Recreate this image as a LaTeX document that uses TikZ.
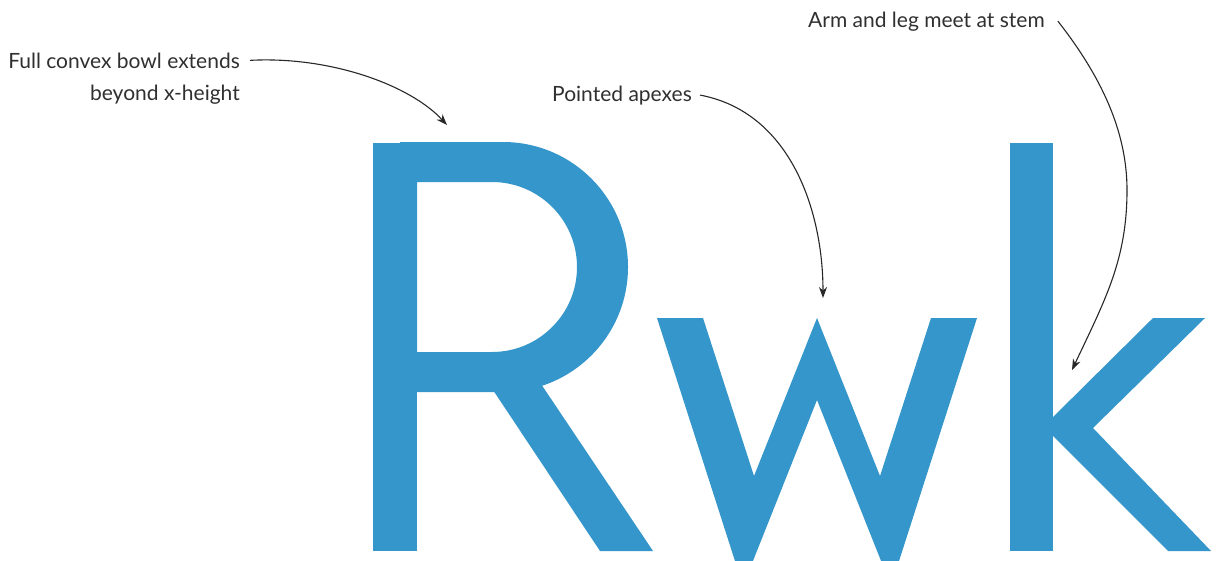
\documentclass[tikz,border=0pt]{standalone}
\usepackage{fontspec}
\setmainfont{Lato}
\usetikzlibrary{arrows.meta}
\definecolor{glyphblue}{RGB}{52,150,202}
\definecolor{labelgray}{RGB}{48,48,48}
\definecolor{linegray}{RGB}{40,40,40}
\begin{document}
\begin{tikzpicture}[x=1pt,y=-1pt,
  lbl/.style={inner sep=0pt, text=labelgray, font=\fontsize{21}{25}\selectfont},
  glyph/.style={fill=glyphblue, draw=none},
  callout/.style={draw=linegray, line width=1.1pt, -{Stealth[length=11pt,width=8pt]}}]
\useasboundingbox (0,0) rectangle (1225,560);
\fill[white] (0,0) rectangle (1225,560);
\begin{scope}
\clip (0,0) rectangle (1225,560);
% R
\fill[glyph] (373,143) rectangle (417,551);
\fill[glyph, even odd rule]
  (400,142) -- (503,142) arc[start angle=-90,end angle=90,radius=125] -- (400,392) -- cycle
  (417,182) -- (492,182) arc[start angle=-90,end angle=90,radius=85] -- (417,352) -- cycle;
\fill[glyph] (493,390) -- (537,378) -- (653,551) -- (600,551) -- cycle;
% w
\fill[glyph] (657,318) -- (703,318) -- (754,476) -- (817,318) -- (880,476) -- (931,318)
  -- (977,318) -- (891,586) -- (817,400) -- (743,586) -- cycle;
% k
\fill[glyph] (1010,143) rectangle (1053,551);
\fill[glyph] (1048,422) -- (1153,318) -- (1205,318) -- (1093,428) -- (1211,551)
  -- (1168,551) -- (1048,431) -- cycle;
\end{scope}
% labels
\node[lbl, anchor=base east] (bowlA) at (240,68) {Full convex bowl extends};
\node[lbl, anchor=base east] (bowlB) at (240,100) {beyond x-height};
\node[lbl, anchor=base west] (apex) at (552,101) {Pointed apexes};
\node[lbl, anchor=base west] (stem) at (808,27) {Arm and leg meet at stem};
% arrow targets
\coordinate (bowlTip) at (447,125);
\coordinate (apexTip) at (823,298);
\coordinate (stemMid) at (1127,190);
\coordinate (stemTip) at (1072,370);
% connectors
\draw[callout] ([xshift=10pt]bowlA.east) .. controls (330,56) and (410,85) .. (bowlTip);
\draw[callout] ([xshift=8pt]apex.east) .. controls (790,112) and (823,210) .. (apexTip);
\draw[callout] ([xshift=13pt]stem.east) .. controls (1100,75) and (1127,130) .. (stemMid)
  .. controls (1127,260) and (1105,300) .. (stemTip);
\end{tikzpicture}
\end{document}
